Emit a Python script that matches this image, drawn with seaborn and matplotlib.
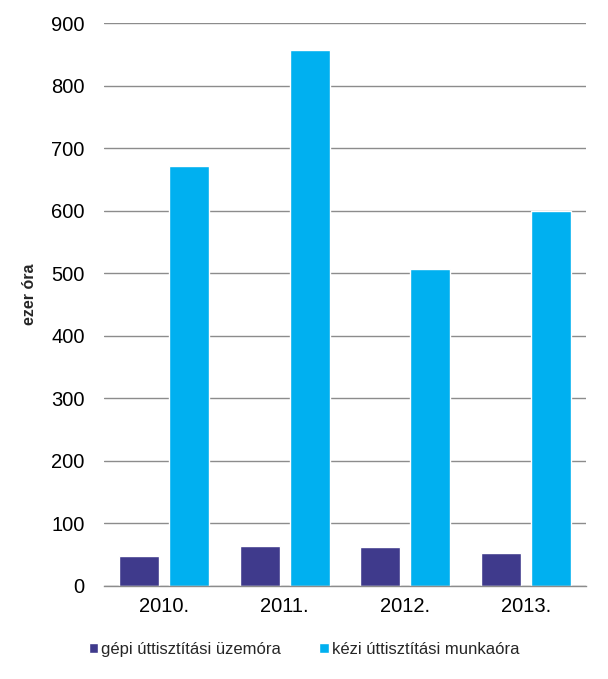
import matplotlib
matplotlib.use("Agg")
import matplotlib.pyplot as plt
import seaborn as sns
import pandas as pd
from matplotlib.patches import Patch

years = ["2010.", "2011.", "2012.", "2013."]
gepi = [48, 64, 62, 53]
kezi = [671, 857, 507, 600]
series = ["gépi úttisztítási üzemóra", "kézi úttisztítási munkaóra"]
colors = ["#3F3A8C", "#00B0F0"]

df = pd.DataFrame({
    "year": years * 2,
    "value": gepi + kezi,
    "series": [series[0]] * 4 + [series[1]] * 4,
})

sns.set_theme(style="white")
plt.rcParams["font.family"] = ["Liberation Sans", "DejaVu Sans"]

fig = plt.figure(figsize=(6.08, 6.79), dpi=100)
ax = fig.add_axes([0.171, 0.137, 0.793, 0.829])
sns.barplot(data=df, x="year", y="value", hue="series", palette=colors,
            width=0.833, gap=0.2, ax=ax, legend=False, saturation=1)

ax.set_ylim(0, 900)
ax.set_yticks(range(0, 901, 100))
ax.set_xlim(-0.5, 3.5)
ax.yaxis.grid(True, color="#8c8c8c", linewidth=1)
ax.set_axisbelow(True)
for s in ["top", "right", "left"]:
    ax.spines[s].set_visible(False)
ax.spines["bottom"].set_color("#8c8c8c")
ax.spines["bottom"].set_linewidth(1)
ax.tick_params(axis="both", length=0, labelsize=14.5, colors="black")
ax.tick_params(axis="y", pad=14)
ax.tick_params(axis="x", pad=8)
ax.set_xlabel("")
ax.set_ylabel("ezer óra", fontsize=11.5, fontweight="bold")
ax.yaxis.set_label_coords(-0.139, 0.519)

handles = [Patch(facecolor=c, label=l) for c, l in zip(colors, series)]
fig.legend(handles=handles, loc="center", bbox_to_anchor=(0.50, 0.043), ncol=2,
           frameon=False, fontsize=12, handlelength=0.55, handleheight=0.55,
           handletextpad=0.2, columnspacing=2.3)

fig.savefig("out.png", dpi=100)
